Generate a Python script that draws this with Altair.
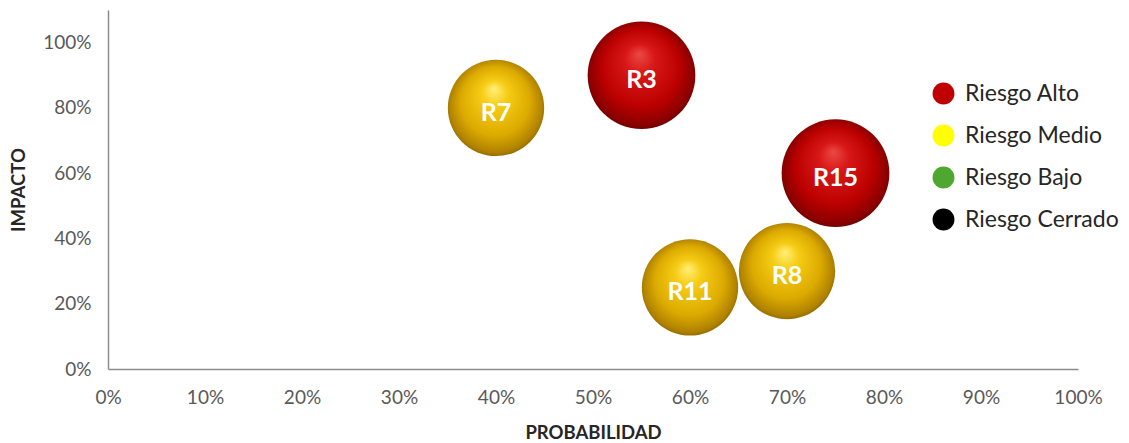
import altair as alt
import pandas as pd

# Risk register: probability, impact, level and bubble weight
ids = ["R3", "R7", "R15", "R11", "R8"]
probabilidad = [0.55, 0.40, 0.75, 0.60, 0.70]
impacto = [0.90, 0.80, 0.60, 0.25, 0.30]
nivel = ["Riesgo Alto", "Riesgo Medio", "Riesgo Alto", "Riesgo Medio", "Riesgo Medio"]
peso = [5, 4, 5, 4, 4]

niveles = ["Riesgo Alto", "Riesgo Medio", "Riesgo Bajo", "Riesgo Cerrado"]
colores = ["#c00000", "#ffff00", "#4ea72e", "#000000"]

y_ticks = [0, 0.2, 0.4, 0.6, 0.8, 1.0]
x_ticks = [i / 10 for i in range(11)]

df = pd.DataFrame({
    "id": ids,
    "prob": probabilidad,
    "imp": impacto,
    "nivel": nivel,
    "peso": peso,
})

FONT = "Lato"

x_enc = alt.X("prob:Q", scale=alt.Scale(domain=[0, 1], nice=False),
              axis=alt.Axis(values=x_ticks, format=".0%", title="PROBABILIDAD"))
y_enc = alt.Y("imp:Q", scale=alt.Scale(domain=[0, 1.1], nice=False),
              axis=alt.Axis(values=y_ticks, format=".0%", title="IMPACTO"))
size_enc = alt.Size("peso:Q", scale=alt.Scale(domain=[0, 5], range=[0, 11600], zero=True),
                    legend=None)

base = alt.Chart(df).encode(x=x_enc, y=y_enc)


def sphere(stops):
    return alt.RadialGradient(
        gradient="radial",
        x1=0.48, y1=0.3, r1=0.0,
        x2=0.5, y2=0.5, r2=0.55,
        stops=[alt.GradientStop(offset=o, color=c) for o, c in stops],
    )


rojo = sphere([(0.0, "#ea4a44"), (0.25, "#d81818"), (0.65, "#bc0000"), (0.88, "#8a0000"), (1.0, "#5a0000")])
amarillo = sphere([(0.0, "#fff07a"), (0.25, "#f6cc14"), (0.65, "#dcaa00"), (0.88, "#b08200"), (1.0, "#765600")])

altos = base.transform_filter(alt.datum.nivel == "Riesgo Alto").mark_circle(
    fill=rojo, opacity=1
).encode(size=size_enc)

medios = base.transform_filter(alt.datum.nivel == "Riesgo Medio").mark_circle(
    fill=amarillo, opacity=1
).encode(size=size_enc)

etiquetas = base.mark_text(
    font=FONT, fontSize=25, fontWeight="bold", color="white", dy=5
).encode(text="id:N")

# Invisible layer that carries the colour legend for all four levels
leyenda = base.mark_circle(opacity=0).encode(
    color=alt.Color(
        "nivel:N",
        scale=alt.Scale(domain=niveles, range=colores),
        legend=alt.Legend(
            title=None,
            orient="none",
            legendX=824,
            legendY=72,
            symbolType="circle",
            symbolSize=480,
            symbolOpacity=1,
            symbolStrokeWidth=0,
            labelFont=FONT,
            labelFontSize=23,
            labelColor="#262626",
            labelOffset=10,
            rowPadding=18,
        ),
    )
)

chart = alt.layer(altos, medios, etiquetas, leyenda).properties(
    width=970,
    height=359,
    autosize=alt.AutoSizeParams(type="none"),
    padding={"left": 108, "top": 10, "right": 51, "bottom": 74},
).configure_view(
    stroke=None
).configure_axis(
    grid=False,
    ticks=False,
    labelFlush=False,
    domainColor="#8c8c8c",
    domainWidth=1.5,
    labelFont=FONT,
    labelFontSize=19,
    labelColor="#595959",
    titleFont=FONT,
    titleFontSize=18.5,
    titleFontWeight="bold",
    titleColor="#262626",
).configure_axisX(
    labelPadding=19,
    titlePadding=16,
).configure_axisY(
    labelPadding=17,
    titlePadding=14,
)

chart.save("out.html", embed_options={"renderer": "svg", "actions": False})
